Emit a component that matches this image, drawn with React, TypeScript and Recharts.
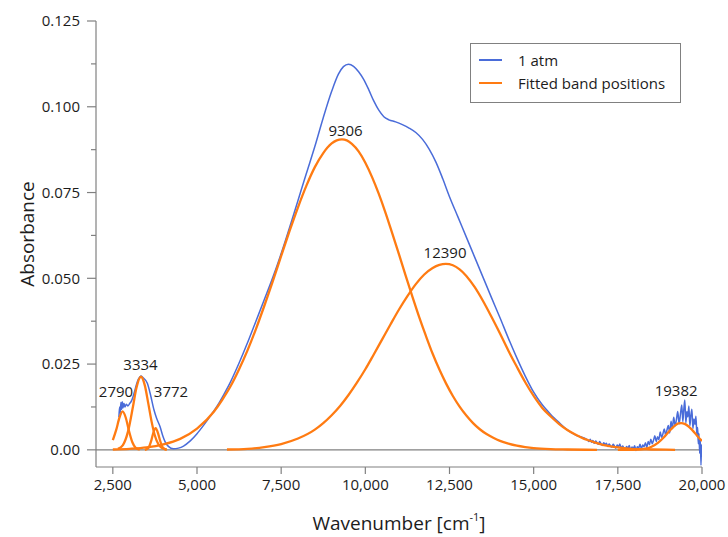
import React from 'react'
import {
  LineChart, Line, XAxis, YAxis, ReferenceLine, ReferenceDot, Legend, Label,
} from 'recharts'

const BLUE = '#4a6cd9'
const ORANGE = '#ff7b12'
const AXIS = '#808080'
const INK = '#1c1c1c'
const FONT = '"Open Sans", "DejaVu Sans", sans-serif'

const X_TICKS = [2500, 5000, 7500, 10000, 12500, 15000, 17500, 20000]
const Y_MAJOR = [0, 0.025, 0.05, 0.075, 0.1, 0.125]
const Y_MINOR = [0.0125, 0.0375, 0.0625, 0.0875, 0.1125]

// measured spectrum at 1 atm: [wavenumber, absorbance]
const SPECTRUM: [number, number][] = [
  [2680, 0.0095], [2700, 0.0125], [2720, 0.0108], [2740, 0.0138], [2760, 0.0118],
  [2780, 0.014], [2800, 0.0122], [2830, 0.0136], [2860, 0.0125], [2900, 0.0133],
  [2950, 0.0128], [3000, 0.0135], [3050, 0.0142], [3100, 0.0155], [3150, 0.0172],
  [3200, 0.019], [3260, 0.0206], [3330, 0.0215], [3400, 0.021], [3525, 0.0194],
  [3620, 0.016], [3723, 0.0116], [3800, 0.0092], [3901, 0.0068], [3980, 0.0042],
  [4050, 0.0024], [4150, 0.001], [4300, 0.0003], [4450, 0.0005], [4600, 0.0011],
  [4800, 0.0026], [5000, 0.0047], [5200, 0.0072], [5400, 0.0099], [5600, 0.0128],
  [5800, 0.0162], [6000, 0.0199], [6250, 0.0253], [6500, 0.0312], [6750, 0.0375],
  [7000, 0.0438], [7250, 0.0502], [7500, 0.0572], [7750, 0.0648], [8000, 0.0727],
  [8250, 0.0806], [8500, 0.0884], [8750, 0.0968], [9000, 0.1045], [9200, 0.1095],
  [9350, 0.1117], [9500, 0.1124], [9650, 0.1118], [9800, 0.1102], [9950, 0.108],
  [10100, 0.105], [10250, 0.1017], [10400, 0.099], [10550, 0.0971], [10700, 0.0962],
  [10900, 0.0956], [11100, 0.0948], [11300, 0.0938], [11500, 0.0925], [11700, 0.0905],
  [11900, 0.0876], [12100, 0.0838], [12300, 0.079], [12500, 0.0738], [12750, 0.0679],
  [13000, 0.062], [13250, 0.0561], [13500, 0.0502], [13750, 0.0443], [14000, 0.0385],
  [14250, 0.0325], [14500, 0.0268], [14750, 0.0215], [15000, 0.0168], [15250, 0.0132],
  [15500, 0.0104], [15750, 0.008], [16000, 0.0058], [16250, 0.0043], [16600, 0.0029],
  [16640, 0.0024], [16680, 0.0031], [16720, 0.0022], [16760, 0.0027], [16800, 0.0019],
  [16840, 0.0026], [16880, 0.0021], [16920, 0.0016], [16960, 0.0024], [17000, 0.0018],
  [17040, 0.0013], [17080, 0.0021], [17120, 0.0015], [17160, 0.0019], [17200, 0.001],
  [17240, 0.0017], [17280, 0.0012], [17320, 0.0008], [17360, 0.0016], [17400, 0.0011],
  [17440, 0.0005], [17480, 0.0014], [17520, 0.0009], [17560, 0.0017], [17600, 0.0004],
  [17640, 0.0011], [17680, 0.0006], [17720, 0.0001], [17760, 0.001], [17800, 0.0004],
  [17840, 0.0013], [17880, -0.0001], [17920, 0.0008], [17960, 0.0003], [18000, 0.0012],
  [18040, -0.0002], [18080, 0.0009], [18120, 0.0005], [18160, 0.0016], [18200, 0.0003],
  [18240, 0.0014], [18280, 0.0009], [18320, 0.0021], [18360, 0.0007], [18400, 0.0024],
  [18440, 0.0015], [18480, 0.0031], [18520, 0.0018], [18560, 0.0028], [18600, 0.0041],
  [18640, 0.0024], [18680, 0.0038], [18720, 0.003], [18760, 0.0052], [18800, 0.0036],
  [18840, 0.0047], [18880, 0.0061], [18920, 0.0043], [18960, 0.0058], [19000, 0.0071],
  [19040, 0.0049], [19080, 0.0083], [19120, 0.0062], [19160, 0.0095], [19200, 0.007],
  [19240, 0.0088], [19280, 0.0112], [19320, 0.0076], [19360, 0.0104], [19400, 0.0131],
  [19430, 0.0082], [19460, 0.0118], [19490, 0.0145], [19520, 0.0079], [19550, 0.0112],
  [19580, 0.0096], [19610, 0.0128], [19640, 0.007], [19670, 0.0101], [19700, 0.0118],
  [19730, 0.0062], [19760, 0.009], [19790, 0.0074], [19820, 0.0098], [19850, 0.004],
  [19870, 0.0065], [19890, 0.0018], [19910, 0.0048], [19930, -0.001], [19950, 0.003],
  [19970, -0.0045], [19985, 0.0015], [20000, -0.002],
]

// fitted bands
const BAND_2790: [number, number][] = [
  [2500, 0.0028], [2600, 0.0058], [2700, 0.0095], [2790, 0.0112], [2880, 0.0095],
  [2980, 0.0055], [3080, 0.0022], [3180, 0.0006], [3300, 0.0001],
]
const BAND_3334: [number, number][] = [
  [2650, 0.0003], [2800, 0.0014], [2950, 0.0053], [3100, 0.0127], [3200, 0.018],
  [3334, 0.0213], [3450, 0.0188], [3550, 0.0137], [3650, 0.0083], [3750, 0.0041],
  [3850, 0.0017], [3950, 0.0006], [4100, 0.0001],
]
const BAND_3772: [number, number][] = [
  [3450, 0], [3550, 0.0005], [3650, 0.003], [3700, 0.0049], [3772, 0.0063],
  [3850, 0.0046], [3900, 0.0028], [4000, 0.0005], [4100, 0],
]
const BAND_9306: [number, number][] = [
  [2500, 0.0001], [3000, 0.0003], [3500, 0.0007], [4000, 0.0016], [4500, 0.0032],
  [5000, 0.0062], [5500, 0.0111], [5750, 0.0146], [6000, 0.0186], [6250, 0.0235],
  [6500, 0.029], [6750, 0.0352], [7000, 0.042], [7250, 0.0491], [7500, 0.0565],
  [7750, 0.0638], [8000, 0.0707], [8250, 0.077], [8500, 0.0824], [8750, 0.0865],
  [9000, 0.0893], [9150, 0.0902], [9306, 0.0905], [9450, 0.0902], [9600, 0.0892],
  [9800, 0.087], [10000, 0.0837], [10200, 0.0795], [10400, 0.0746], [10600, 0.0691],
  [10800, 0.0631], [11000, 0.057], [11200, 0.0507], [11400, 0.0446], [11600, 0.0387],
  [11800, 0.0332], [12000, 0.028], [12200, 0.0234], [12400, 0.0193], [12600, 0.0157],
  [12800, 0.0126], [13000, 0.01], [13200, 0.0078], [13400, 0.006], [13600, 0.0046],
  [13800, 0.0035], [14000, 0.0026], [14250, 0.0018], [14500, 0.0012], [14750, 0.0008],
  [15000, 0.0005], [15500, 0.0002], [16000, 0.0001], [16880, 0],
]
const BAND_12390: [number, number][] = [
  [5890, 0.0001], [6500, 0.0003], [7000, 0.0008], [7500, 0.0017], [8000, 0.0033],
  [8500, 0.0059], [8750, 0.0078], [9000, 0.0101], [9250, 0.0128], [9500, 0.016],
  [9750, 0.0196], [10000, 0.0235], [10250, 0.0278], [10500, 0.0322], [10750, 0.0366],
  [11000, 0.0409], [11250, 0.0448], [11500, 0.0483], [11750, 0.0511], [12000, 0.053],
  [12200, 0.0539], [12390, 0.0542], [12600, 0.0538], [12800, 0.0526], [13000, 0.0507],
  [13250, 0.0474], [13500, 0.0433], [13750, 0.0387], [14000, 0.0339], [14250, 0.0289],
  [14500, 0.0242], [14750, 0.0197], [15000, 0.0157], [15250, 0.0123], [15500, 0.0098],
  [15750, 0.0076], [16000, 0.0058], [16250, 0.0044], [16500, 0.0032], [16750, 0.0024],
  [17000, 0.0016], [17250, 0.0011], [17500, 0.0007], [17750, 0.0004], [18000, 0.0002],
  [18500, 0.0001], [19200, 0],
]
const BAND_19382: [number, number][] = [
  [17500, 0], [17800, 0], [18100, 0.0001], [18400, 0.0005], [18500, 0.0009],
  [18700, 0.0021], [18900, 0.004], [19100, 0.0062], [19300, 0.0077], [19382, 0.0078],
  [19500, 0.0075], [19700, 0.0059], [19900, 0.0036], [20000, 0.0026],
]

const BANDS = [BAND_2790, BAND_3334, BAND_3772, BAND_9306, BAND_12390, BAND_19382]

// band position labels, anchored in data units
const PEAK_LABELS = [
  { text: '2790', x: 2594, y: 0.0169 },
  { text: '3334', x: 3322, y: 0.0249 },
  { text: '3772', x: 4228, y: 0.0169 },
  { text: '9306', x: 9412, y: 0.0929 },
  { text: '12390', x: 12368, y: 0.0575 },
  { text: '19382', x: 19231, y: 0.0172 },
]

const SERIES = [
  { name: '1 atm', color: BLUE },
  { name: 'Fitted band positions', color: ORANGE },
]

const toPts = (a: [number, number][]) => a.map(([x, y]) => ({ x, y }))

const isMajor = (v: number) => Y_MAJOR.some(m => Math.abs(m - v) < 1e-9)
const fmtY = (v: number) => (v === 0 ? '0.00' : v.toFixed(3))

const TICK_SIZE = 9
const TICK_MARGIN = 7

function LeftTick(props: any) {
  const { x, y, payload } = props
  const v = payload.value
  const major = isMajor(v)
  const ax = x + TICK_SIZE + TICK_MARGIN
  return (
    <g>
      <line x1={ax - (major ? 9 : 5)} x2={ax} y1={y} y2={y} stroke={AXIS} strokeWidth={1.2} />
      {major && (
        <text x={x} y={y} dy="0.35em" textAnchor="end" fontSize={15} fill={INK} fontFamily={FONT}>
          {fmtY(v)}
        </text>
      )}
    </g>
  )
}

function YTitle(props: any) {
  const { x, y, height } = props.viewBox
  const cx = x + 27
  const cy = y + height / 2 - 10
  return (
    <text x={cx} y={cy} transform={`rotate(-90 ${cx} ${cy})`} textAnchor="middle"
      dominantBaseline="central" fontSize={19} fill={INK} fontFamily={FONT}>
      Absorbance
    </text>
  )
}

function XTitle(props: any) {
  const { x, y, width } = props.viewBox
  return (
    <text x={x + width / 2} y={y + 56} textAnchor="middle" dominantBaseline="central"
      fontSize={19} fill={INK} fontFamily={FONT}>
      Wavenumber [cm<tspan fontSize={11} dy={-7}>-1</tspan><tspan dy={7}>]</tspan>
    </text>
  )
}

function LegendBox() {
  return (
    <div style={{
      width: 211, height: 60, boxSizing: 'border-box', border: `1px solid ${AXIS}`,
      background: '#fff', padding: '4px 0 0 8px', fontFamily: FONT, fontSize: 15, color: INK,
    }}>
      {SERIES.map(s => (
        <div key={s.name} style={{ display: 'flex', alignItems: 'center', height: 23 }}>
          <div style={{ width: 23, height: 2, background: s.color, marginRight: 16 }} />
          <span>{s.name}</span>
        </div>
      ))}
    </div>
  )
}

export default function App() {
  const spectrum = toPts(SPECTRUM)
  return (
    <div style={{ position: 'absolute', left: 0, top: 0, background: '#fff' }}>
      <LineChart width={728} height={537} margin={{ top: 21, right: 26, left: 0, bottom: 0 }}>
        <XAxis
          dataKey="x" type="number" domain={[2000, 20000]} ticks={X_TICKS} allowDataOverflow
          tickFormatter={(v: number) => v.toLocaleString('en-US')}
          tick={{ fontSize: 15, fill: INK, fontFamily: FONT }}
          tickSize={7} tickMargin={5} height={70} stroke={AXIS} strokeWidth={1.2}
        >
          <Label content={XTitle} />
        </XAxis>
        <XAxis
          xAxisId="top" orientation="top" type="number" domain={[2000, 20000]} ticks={X_TICKS}
          mirror tick={false} tickSize={10} height={0} stroke={AXIS} strokeWidth={1.2} allowDataOverflow
        />
        <YAxis
          type="number" domain={[-0.005, 0.125]} ticks={[...Y_MAJOR, ...Y_MINOR].sort((a, b) => a - b)}
          allowDataOverflow width={96} tickLine={false} tickSize={TICK_SIZE} tickMargin={TICK_MARGIN}
          tick={<LeftTick />} stroke={AXIS} strokeWidth={1.2}
        >
          <Label content={YTitle} />
        </YAxis>
        <YAxis
          yAxisId="right" orientation="right" type="number" domain={[-0.005, 0.125]}
          ticks={[...Y_MAJOR, ...Y_MINOR]} mirror tick={false} tickSize={5} width={0}
          stroke={AXIS} strokeWidth={1.2} allowDataOverflow
        />
        <ReferenceLine y={0} stroke={AXIS} strokeWidth={1.2} />
        <Legend
          layout="vertical" align="center" verticalAlign="middle"
          wrapperStyle={{ left: 470, top: 43, width: 211 }}
          content={() => <LegendBox />}
        />
        <Line
          data={spectrum} dataKey="y" name="1 atm" type="monotone" stroke={BLUE} strokeWidth={1.5}
          dot={false} activeDot={false} isAnimationActive={false}
        />
        {BANDS.map((b, i) => (
          <Line
            key={i} data={toPts(b)} dataKey="y" name="Fitted band positions" type="monotone"
            stroke={ORANGE} strokeWidth={2.3} dot={false} activeDot={false} isAnimationActive={false}
            legendType="none"
          />
        ))}
        {PEAK_LABELS.map(p => (
          <ReferenceDot
            key={p.text} x={p.x} y={p.y} r={1} fill="none" stroke="none"
            label={{ value: p.text, position: 'center', fontSize: 15, fill: INK, fontFamily: FONT }}
          />
        ))}
      </LineChart>
    </div>
  )
}
